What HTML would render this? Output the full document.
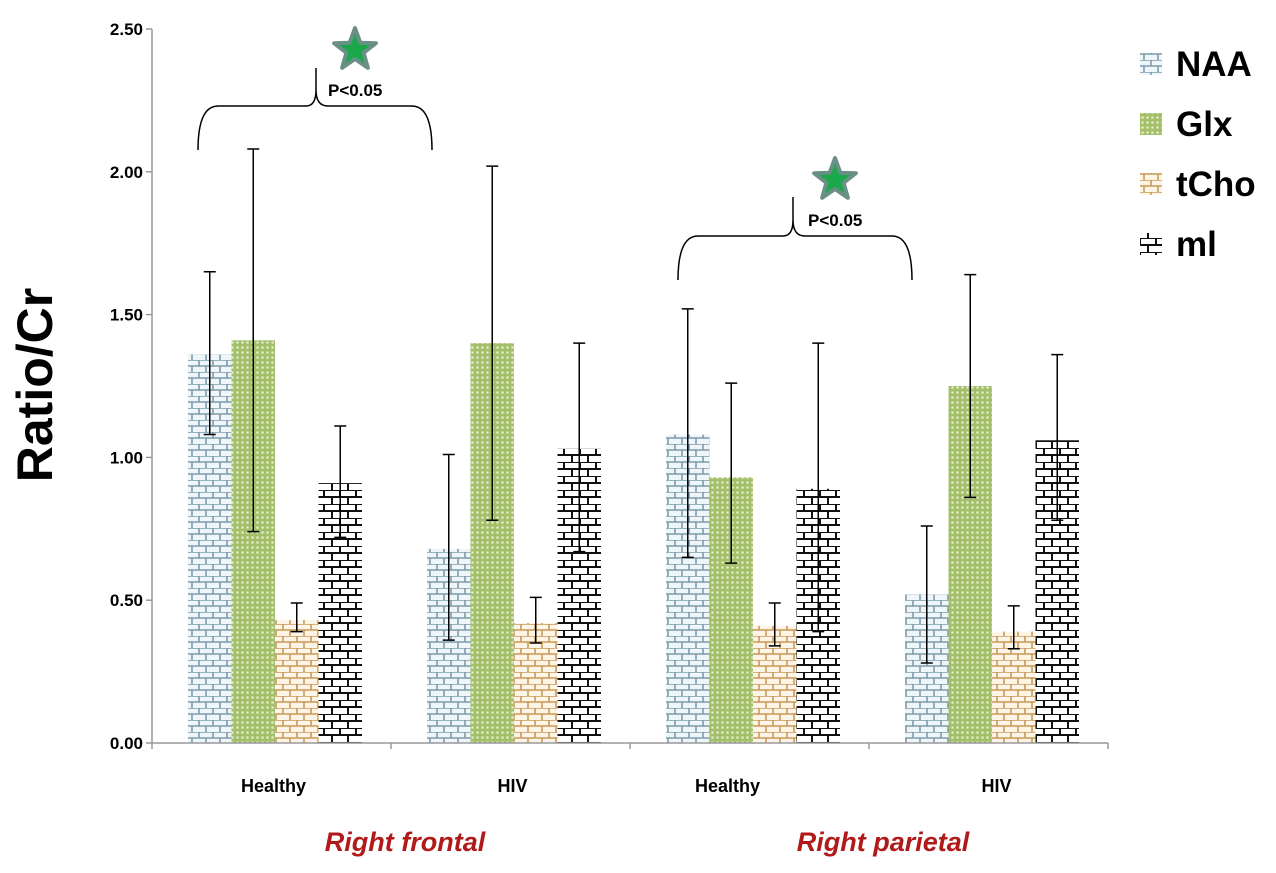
<!DOCTYPE html>
<html><head><meta charset="utf-8"><style>
body{margin:0;background:#fff;font-family:"Liberation Sans",Arial,sans-serif}
svg text{font-family:"Liberation Sans",Arial,sans-serif}
</style></head><body>
<svg id="c" width="1276" height="868" xmlns="http://www.w3.org/2000/svg">
<defs>
<pattern id="pNAA" width="14" height="12" patternUnits="userSpaceOnUse"><rect width="14" height="12" fill="#eef6fa"/><path d="M0 0H14M0 6H14M3 0V6M10 6V12" stroke="#7f9aab" stroke-width="1.6"/></pattern>
<pattern id="pGlx" width="5" height="5" patternUnits="userSpaceOnUse"><rect width="5" height="5" fill="#a3bf6a"/><circle cx="2.5" cy="2.5" r="1.3" fill="#e0ebc6"/></pattern>
<pattern id="pTCho" width="14" height="12" patternUnits="userSpaceOnUse"><rect width="14" height="12" fill="#fdf4e8"/><path d="M0 0H14M0 6H14M3 0V6M10 6V12" stroke="#c89a55" stroke-width="1.6"/></pattern>
<pattern id="pMI" width="16" height="14" patternUnits="userSpaceOnUse"><rect width="16" height="14" fill="#fff"/><path d="M0 0H16M0 7H16M4 0V7M12 7V14" stroke="#111" stroke-width="2"/></pattern>
</defs>
<g id="plot"></g>
</svg>
<script>
const categories=["Healthy","HIV","Healthy","HIV"];
const seriesNames=["NAA","Glx","tCho","ml"];
const naa=[1.36,0.68,1.08,0.52];
const glx=[1.41,1.40,0.93,1.25];
const tcho=[0.43,0.42,0.41,0.39];
const mi=[0.91,1.03,0.89,1.06];
const naaLo=[1.08,0.36,0.65,0.28], naaHi=[1.65,1.01,1.52,0.76];
const glxLo=[0.74,0.78,0.63,0.86], glxHi=[2.08,2.02,1.26,1.64];
const tchoLo=[0.39,0.35,0.34,0.33], tchoHi=[0.49,0.51,0.49,0.48];
const miLo=[0.72,0.67,0.39,0.78], miHi=[1.11,1.40,1.40,1.36];
const yTicks=[0,0.5,1,1.5,2,2.5];
const yTickLabels=["0.00","0.50","1.00","1.50","2.00","2.50"];
const regions=["Right frontal","Right parietal"];

const NS="http://www.w3.org/2000/svg";
const g=document.getElementById('plot');
function el(t,a,txt){const e=document.createElementNS(NS,t);for(const k in a)e.setAttribute(k,a[k]);if(txt!=null)e.textContent=txt;g.appendChild(e);return e;}
const x0=152,x1=1108,yBase=743,yTop=29;
const y=v=>yBase-(v/2.5)*(yBase-yTop);
const gw=(x1-x0)/categories.length, bw=43.5, off=36;
const bx=(gi,si)=>x0+gi*gw+off+si*bw;
const labelShift=[0,0,-24,6];

let e;
e=el('line',{x1:x0,y1:yTop,x2:x0,y2:yBase,stroke:'#999','stroke-width':1.5});

yTicks.forEach((t,i)=>{
  e=el('line',{x1:x0-6,y1:y(t),x2:x0,y2:y(t),stroke:'#999','stroke-width':1.5});
  
  e=el('text',{x:x0-9,y:y(t)+6,'text-anchor':'end','font-size':17,'font-weight':'bold'},yTickLabels[i]);
  
});
const fills=['url(#pNAA)','url(#pGlx)','url(#pTCho)','url(#pMI)'];
const vals=[naa,glx,tcho,mi],los=[naaLo,glxLo,tchoLo,miLo],his=[naaHi,glxHi,tchoHi,miHi];
categories.forEach((c,gi)=>{
  vals.forEach((arr,si)=>{
    const X=bx(gi,si);
    e=el('rect',{x:X,y:y(arr[gi]),width:bw,height:yBase-y(arr[gi]),fill:fills[si]});
    
  });
  vals.forEach((arr,si)=>{
    const cx=bx(gi,si)+bw/2;
    e=el('path',{d:`M${cx} ${y(his[si][gi])}V${y(los[si][gi])}M${cx-6} ${y(his[si][gi])}H${cx+6}M${cx-6} ${y(los[si][gi])}H${cx+6}`,stroke:'#000','stroke-width':1.5,fill:'none'});
    
  });
  e=el('text',{x:x0+gi*gw+gw/2+2+labelShift[gi],y:792,'text-anchor':'middle','font-size':18,'font-weight':'bold'},c);
  
});
e=el('line',{x1:x0,y1:yBase,x2:x1,y2:yBase,stroke:'#999','stroke-width':1.5});

for(let i=0;i<=categories.length;i++){
  e=el('line',{x1:x0+i*gw,y1:yBase,x2:x0+i*gw,y2:yBase+6,stroke:'#999','stroke-width':1.5});
  
}
regions.forEach((r,i)=>{
  e=el('text',{x:x0+(2*i+1)*gw+14,y:851,'text-anchor':'middle','font-size':27,'font-weight':'bold','font-style':'italic',fill:'#b01a1a'},r);
  
});
e=el('text',{x:52,y:385,'text-anchor':'middle','font-size':50,'font-weight':'bold',transform:'rotate(-90 52 385)'},'Ratio/Cr');

[[198,432,106,150,318,68,355,50,328,96],[678,912,236,280,795,197,835,180,808,226]].forEach((b,i)=>{
  const [l,r,t,bt,m,pk,sx,sy,tx,ty]=b;
  e=el('path',{d:`M${l} ${bt}Q${l} ${t} ${l+20} ${t}H${m-12}Q${m-2} ${t} ${m-2} ${t-16}V${pk}M${m-2} ${t-16}Q${m-2} ${t} ${m+10} ${t}H${r-20}Q${r} ${t} ${r} ${bt}`,stroke:'#000','stroke-width':1.5,fill:'none'});
  
  e=el('text',{x:tx,y:ty,'font-size':17,'font-weight':'bold'},'P<0.05');
  
  const pts=[];for(let k=0;k<10;k++){const a=-Math.PI/2+k*Math.PI/5,rr=k%2?9:22;pts.push((sx+rr*Math.cos(a)).toFixed(1)+','+(sy+rr*Math.sin(a)).toFixed(1));}
  e=el('polygon',{points:pts.join(' '),fill:'#1aa84a',stroke:'#6a8f86','stroke-width':4,'stroke-linejoin':'round'});
  
});
seriesNames.forEach((s,i)=>{
  const ly=68+i*60;
  e=el('rect',{x:1140,y:ly-15,width:22,height:22,fill:fills[i]});
  
  e=el('text',{x:1176,y:ly+8,'font-size':35,'font-weight':'bold'},s);
  
});
</script>
</body></html>
